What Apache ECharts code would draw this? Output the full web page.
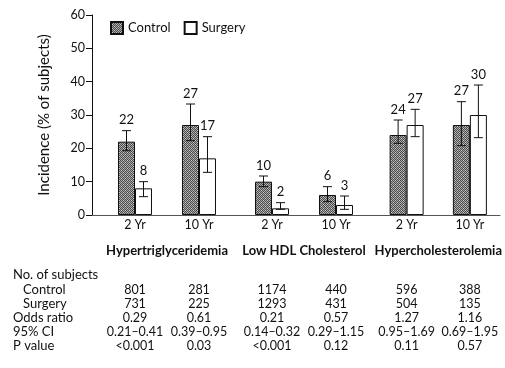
<!DOCTYPE html>
<html>
<head>
<meta charset="utf-8">
<script src="https://cdn.jsdelivr.net/npm/echarts@6/dist/echarts.min.js"></script>
<style>
  html, body { margin: 0; padding: 0; background: #fff; }
  #chart { width: 505px; height: 368px; }
</style>
</head>
<body>
<div id="chart"></div>
<script>
// Lipid outcomes by study group, 2 and 10 years after baseline
const groups = ['Hypertriglyceridemia', 'Low HDL Cholesterol', 'Hypercholesterolemia'];
const periods = ['2 Yr', '10 Yr'];

// incidence (% of subjects), two periods per group, in group order
const controlPct = [22, 27, 10, 6, 24, 27];
const surgeryPct = [8, 17, 2, 3, 27, 30];

// 95% confidence limits of the incidence
const controlLow  = [19.3, 22.3, 8.5, 4.0, 21.5, 20.8];
const controlHigh = [25.3, 33.3, 11.7, 8.5, 28.5, 34.0];
const surgeryLow  = [5.5, 12.8, 1.7, 1.7, 23.5, 23.2];
const surgeryHigh = [10.0, 23.5, 3.7, 5.7, 31.7, 39.0];

// table beneath the chart
const rowNames = ['Control', 'Surgery', 'Odds ratio', '95% CI', 'P value'];
const controlN = ['801', '281', '1174', '440', '596', '388'];
const surgeryN = ['731', '225', '1293', '431', '504', '135'];
const oddsRatio = ['0.29', '0.61', '0.21', '0.57', '1.27', '1.16'];
const ci95 = ['0.21\u20130.41', '0.39\u20130.95', '0.14\u20130.32', '0.29\u20131.15', '0.95\u20131.69', '0.69\u20131.95'];
const pValue = ['<0.001', '0.03', '<0.001', '0.12', '0.11', '0.57'];

const yTicks = { min: 0, max: 60, interval: 10 };

const FONT = 'Lato';
const BAR_W = 17;

// grainy grey fill for the control bars
function grainPattern() {
  const c = document.createElement('canvas');
  c.width = 4; c.height = 4;
  const g = c.getContext('2d');
  g.fillStyle = '#a8a8a8';
  g.fillRect(0, 0, 4, 4);
  g.fillStyle = '#4a4a4a';
  for (let y = 0; y < 4; y++) {
    for (let x = 0; x < 4; x++) {
      if ((x + y) % 2 === 0) g.fillRect(x, y, 1, 1);
    }
  }
  g.fillStyle = '#d0d0d0';
  g.fillRect(1, 2, 1, 1);
  g.fillRect(3, 0, 1, 1);
  return { image: c, repeat: 'repeat' };
}

const PLOT_TOP = 15;
const PLOT_BOTTOM = 153;
const groupGrids = [
  { left: 103, width: 128 },
  { left: 240, width: 128 },
  { left: 375, width: 128 }
];

const tableRows = [controlN, surgeryN, oddsRatio, ci95, pValue];
const rowOffsets = [68, 82, 96, 110, 124];

const grid = [{ left: 92, right: 5, top: PLOT_TOP, bottom: PLOT_BOTTOM }];
const xAxis = [{
  gridIndex: 0, type: 'value', min: 0, max: 1,
  axisLine: { show: true, lineStyle: { color: '#555', width: 1 } },
  axisTick: { show: false }, axisLabel: { show: false }, splitLine: { show: false }
}];
const yAxis = [{
  gridIndex: 0, type: 'value', min: yTicks.min, max: yTicks.max, interval: yTicks.interval,
  name: 'Incidence (% of subjects)', nameLocation: 'middle', nameGap: 40,
  nameTextStyle: { fontFamily: FONT, fontSize: 15, color: '#111' },
  axisLine: { show: true, lineStyle: { color: '#111', width: 1 } },
  axisTick: { show: true, length: 6, lineStyle: { color: '#111' } },
  axisLabel: { fontFamily: FONT, fontSize: 12.5, color: '#111', margin: 7 },
  splitLine: { show: false }
}];
const series = [];
const pattern = grainPattern();

function errorSeries(name, xi, yi, low, high, vals, shift) {
  return {
    name: name, type: 'custom', xAxisIndex: xi, yAxisIndex: yi, z: 5,
    data: low.map((l, i) => [i, l, high[i], vals[i]]),
    renderItem: function (params, api) {
      const top = api.coord([api.value(0), api.value(2)]);
      const bot = api.coord([api.value(0), api.value(1)]);
      const x = top[0] + shift;
      const cap = 4.5;
      return {
        type: 'group',
        children: [
          { type: 'line', shape: { x1: x, y1: top[1], x2: x, y2: bot[1] }, style: { stroke: '#111', lineWidth: 1 } },
          { type: 'line', shape: { x1: x - cap, y1: top[1], x2: x + cap, y2: top[1] }, style: { stroke: '#111', lineWidth: 1 } },
          { type: 'line', shape: { x1: x - cap, y1: bot[1], x2: x + cap, y2: bot[1] }, style: { stroke: '#111', lineWidth: 1 } },
          { type: 'text', style: { x: x, y: top[1] - 4, text: String(api.value(3)), textAlign: 'center', textVerticalAlign: 'bottom', fontFamily: FONT, fontSize: 13, fill: '#111' } }
        ]
      };
    }
  };
}

groupGrids.forEach((gg, g) => {
  const gi = grid.length;
  grid.push({ left: gg.left, width: gg.width, top: PLOT_TOP, bottom: PLOT_BOTTOM });
  const yi = yAxis.length;
  yAxis.push({ gridIndex: gi, type: 'value', min: yTicks.min, max: yTicks.max, show: false });
  const xi = xAxis.length;
  xAxis.push({
    gridIndex: gi, type: 'category', data: periods,
    name: groups[g], nameLocation: 'middle', nameGap: 29,
    nameTextStyle: { fontFamily: FONT, fontSize: 13, fontWeight: 'bold', color: '#111' },
    axisLine: { show: false }, axisTick: { show: false },
    axisLabel: { fontFamily: FONT, fontSize: 12.5, color: '#111', margin: 3, interval: 0 }
  });
  // table rows share the category positions of this group
  tableRows.forEach((row, r) => {
    xAxis.push({
      gridIndex: gi, type: 'category', position: 'bottom', offset: rowOffsets[r],
      data: row.slice(g * 2, g * 2 + 2),
      axisLine: { show: false }, axisTick: { show: false },
      axisLabel: { fontFamily: FONT, fontSize: 12.5, color: '#111', margin: 0, verticalAlign: 'top', interval: 0, hideOverlap: false }
    });
  });
  const cv = controlPct.slice(g * 2, g * 2 + 2);
  const sv = surgeryPct.slice(g * 2, g * 2 + 2);
  series.push({
    name: 'Control', type: 'bar', xAxisIndex: xi, yAxisIndex: yi,
    barWidth: BAR_W, barGap: '0%', data: cv,
    itemStyle: { color: pattern, borderColor: '#111', borderWidth: 1 }
  });
  series.push({
    name: 'Surgery', type: 'bar', xAxisIndex: xi, yAxisIndex: yi,
    barWidth: BAR_W, barGap: '0%', data: sv,
    itemStyle: { color: '#fff', borderColor: '#111', borderWidth: 1 }
  });
  series.push(errorSeries('Control', xi, yi, controlLow.slice(g * 2, g * 2 + 2), controlHigh.slice(g * 2, g * 2 + 2), cv, -BAR_W / 2));
  series.push(errorSeries('Surgery', xi, yi, surgeryLow.slice(g * 2, g * 2 + 2), surgeryHigh.slice(g * 2, g * 2 + 2), sv, BAR_W / 2));
});

// row headings of the table
const rowText = [
  { text: 'No. of subjects', left: 13, top: 268 },
  { text: rowNames[0], left: 23, top: 283 },
  { text: rowNames[1], left: 23, top: 297 },
  { text: rowNames[2], left: 13, top: 311 },
  { text: rowNames[3], left: 13, top: 325 },
  { text: rowNames[4], left: 13, top: 339 }
];

const chart = echarts.init(document.getElementById('chart'), null, { renderer: 'canvas' });
chart.setOption({
  animation: false,
  backgroundColor: '#fff',
  legend: {
    data: ['Control', 'Surgery'], left: 105, top: 16,
    itemWidth: 12, itemHeight: 12, itemGap: 13, icon: 'rect',
    textStyle: { fontFamily: FONT, fontSize: 13, color: '#111' }
  },
  grid: grid,
  xAxis: xAxis,
  yAxis: yAxis,
  series: series,
  graphic: rowText.map(r => ({
    type: 'text', left: r.left, top: r.top,
    style: { text: r.text, fontFamily: FONT, fontSize: 13, fill: '#111' }
  }))
});
</script>
</body>
</html>
